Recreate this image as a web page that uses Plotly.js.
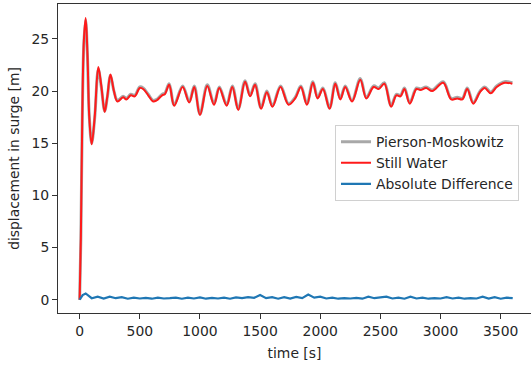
<!DOCTYPE html>
<html>
<head>
<meta charset="utf-8">
<script src="https://cdn.plot.ly/plotly-3.0.1.min.js"></script>
<style>html,body{margin:0;padding:0;background:#fff;}#chart{width:531px;height:367px;}</style>
</head>
<body>
<div id="chart"></div>
<script>
// Still Water surge displacement
const time_sw = [0,10,22,35,50,65,80,100,125,155,180,208,230,256,285,314,361,389,425,458,500,528,570,611,639,686,708,744,786,856,911,953,1000,1061,1117,1161,1222,1269,1319,1375,1417,1458,1508,1556,1603,1670,1736,1792,1839,1889,1939,1978,2022,2078,2125,2167,2208,2264,2333,2383,2444,2486,2533,2589,2633,2667,2700,2744,2800,2833,2880,2931,3022,3089,3139,3181,3222,3272,3328,3367,3417,3467,3533,3597];
const still_water = [0.0,6.0,17.7,24.8,27.0,23.5,17.5,14.9,17.5,22.3,20.5,18.0,19.5,21.6,20.0,19.0,19.4,19.2,19.6,19.5,20.3,20.2,19.6,19.0,19.1,19.6,19.7,20.6,18.6,20.4,18.9,20.4,17.7,20.5,18.7,20.3,18.6,20.4,18.2,20.9,19.5,20.6,18.3,19.9,18.5,20.4,18.7,19.3,20.4,18.7,20.8,19.3,20.2,18.3,20.7,19.2,20.4,19.0,21.1,19.3,20.4,20.2,20.7,18.5,19.6,19.5,20.2,18.8,20.2,20.1,20.3,20.0,20.8,19.2,19.3,19.2,20.2,18.8,19.9,20.3,19.8,20.4,20.8,20.7];
// Pierson-Moskowitz (nearly identical, mostly hidden under the red line)
const pierson_moskowitz = [0.0,5.8,17.5,24.6,26.8,23.3,17.6,15.0,17.4,22.1,20.4,18.1,19.4,21.5,20.0,19.1,19.5,19.3,19.7,19.6,20.4,20.3,19.7,19.1,19.2,19.7,19.8,20.7,18.7,20.5,19.0,20.5,17.8,20.6,18.8,20.4,18.7,20.5,18.3,21.0,19.6,20.7,18.4,20.0,18.6,20.5,18.8,19.4,20.5,18.8,20.9,19.4,20.3,18.4,20.8,19.3,20.5,19.1,21.2,19.4,20.5,20.3,20.8,18.6,19.7,19.6,20.3,18.9,20.3,20.2,20.4,20.1,20.9,19.3,19.4,19.3,20.3,18.9,20.0,20.4,19.9,20.5,20.9,20.8];
// Absolute difference
const time_diff = [0,25,50,75,100,150,200,250,300,350,400,450,500,550,600,650,700,750,800,850,900,950,1000,1050,1100,1150,1200,1250,1300,1350,1400,1450,1500,1550,1600,1650,1700,1750,1800,1850,1900,1950,2000,2050,2100,2150,2200,2250,2300,2350,2400,2450,2500,2550,2600,2650,2700,2750,2800,2850,2900,2950,3000,3050,3100,3150,3200,3250,3300,3350,3400,3450,3500,3550,3600];
const abs_diff = [0.0,0.45,0.6,0.35,0.15,0.3,0.12,0.3,0.15,0.25,0.1,0.2,0.12,0.18,0.1,0.2,0.12,0.15,0.2,0.1,0.2,0.12,0.22,0.1,0.18,0.12,0.2,0.1,0.22,0.15,0.25,0.18,0.45,0.15,0.25,0.1,0.25,0.12,0.28,0.15,0.5,0.2,0.3,0.12,0.2,0.1,0.15,0.12,0.18,0.1,0.3,0.15,0.2,0.3,0.12,0.2,0.1,0.3,0.12,0.2,0.1,0.15,0.12,0.25,0.12,0.2,0.1,0.15,0.12,0.3,0.12,0.25,0.1,0.2,0.15];
const xTicks = [0,500,1000,1500,2000,2500,3000,3500];
const yTicks = [0,5,10,15,20,25];

const font = {family: 'DejaVu Sans', size: 13.9, color: '#262626'};
const traces = [
  {x: time_sw, y: pierson_moskowitz, name: 'Pierson-Moskowitz', mode: 'lines',
   line: {color: '#a8a8a8', width: 3, shape: 'spline', smoothing: 1}},
  {x: time_sw, y: still_water, name: 'Still Water', mode: 'lines',
   line: {color: '#ff1a1a', width: 2, shape: 'spline', smoothing: 1}},
  {x: time_diff, y: abs_diff, name: 'Absolute Difference', mode: 'lines',
   line: {color: '#1f77b4', width: 2.2, shape: 'linear'}}
];
const axisBase = {showgrid: false, zeroline: false, showline: true, mirror: true,
  linecolor: '#333', linewidth: 1, ticks: 'outside', ticklen: 5, tickwidth: 1,
  tickcolor: '#333', tickfont: font};
const layout = {
  width: 531, height: 367,
  margin: {l: 58, r: 0, t: 4, b: 54},
  paper_bgcolor: '#fff', plot_bgcolor: '#fff',
  font: font,
  showlegend: true,
  legend: {x: 0.5856, y: 0.608, xanchor: 'left', yanchor: 'top',
    bgcolor: 'rgba(255,255,255,0.8)', bordercolor: '#d0d0d0', borderwidth: 1,
    font: font, tracegroupgap: 0},
  xaxis: Object.assign({}, axisBase, {range: [-180, 3752], tickvals: xTicks,
    title: {text: 'time [s]', font: font, standoff: 10}}),
  yaxis: Object.assign({}, axisBase, {range: [-1.27, 28.35], tickvals: yTicks,
    title: {text: 'displacement in surge [m]', font: font, standoff: 8}})
};
Plotly.newPlot('chart', traces, layout, {displayModeBar: false, staticPlot: true});
</script>
</body>
</html>
